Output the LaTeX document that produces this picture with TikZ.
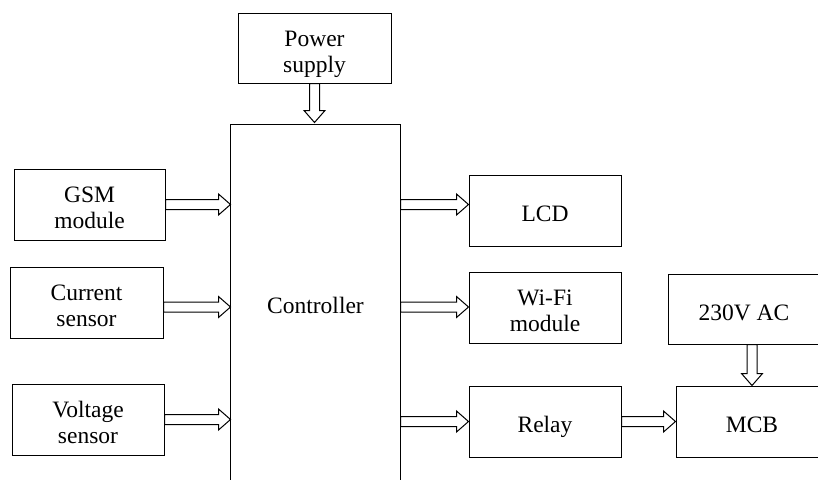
\documentclass[tikz,border=0pt]{standalone}
\usepackage{fontspec}
\setmainfont{Liberation Serif}
\usetikzlibrary{calc}
\newcommand\bt[2][-6pt]{\raisebox{#1}[\height][\depth]{\renewcommand\arraystretch{1}\begin{tabular}{@{}c@{}}#2\end{tabular}}}
\tikzset{
  box/.style={draw, line width=1pt, minimum width=#1, minimum height=71pt, inner sep=0pt, font=\fontsize{23.5}{26}\selectfont},
  box/.default=152pt,
  barrowline/.style={draw, line width=1pt, fill=white, line join=miter},
}
\newcommand\blockarrow[2]{%
  \coordinate (bA) at #1;
  \coordinate (bB) at #2;
  \coordinate (bC) at ($(bB)!12pt!(bA)$);
  \path[barrowline] ($(bA)!5pt!90:(bB)$) -- ($(bC)!5pt!90:(bB)$) -- ($(bC)!10.5pt!90:(bB)$) -- (bB)
    -- ($(bC)!10.5pt!-90:(bB)$) -- ($(bC)!5pt!-90:(bB)$) -- ($(bA)!5pt!-90:(bB)$) -- cycle;
}
\begin{document}
\begin{tikzpicture}[x=1pt,y=-1pt]
\clip (0,0) rectangle (818,479);
\fill[white] (0,0) rectangle (818,479);
% nodes
\node[box=153pt, minimum height=70pt] (pwr) at (314.5,48) {\bt{Power\\supply}};
\node[box=169pt, minimum height=364pt, draw=none] (ctrl) at (315.5,307) {\bt[-1.5pt]{Controller}};
\draw[line width=1pt] (ctrl.south west) -- (ctrl.north west) -- (ctrl.north east) -- (ctrl.south east);
\node[box=151pt] (gsm) at (89.5,204.5) {\bt{GSM\\module}};
\node[box=153pt] (cur) at (86.5,302.5) {\bt{Current\\sensor}};
\node[box] (vol) at (88,419.5) {\bt{Voltage\\sensor}};
\node[box] (lcd) at (545,210.5) {\bt{LCD}};
\node[box] (wifi) at (545,307.5) {\bt{Wi-Fi\\module}};
\node[box] (relay) at (545,421.5) {\bt{Relay}};
\node[box, minimum height=70pt] (ac) at (744,309) {\bt{230V AC}};
\node[box] (mcb) at (752,421.5) {\bt{MCB}};
% arrows
\blockarrow{(pwr.south)}{($(pwr.south |- ctrl.north)+(0,-2)$)}
\blockarrow{(gsm.east)}{(gsm.east -| ctrl.west)}
\blockarrow{(cur.east |- ctrl.center)}{(ctrl.west)}
\blockarrow{(vol.east)}{(vol.east -| ctrl.west)}
\blockarrow{(ctrl.east |- gsm.east)}{(lcd.west |- gsm.east)}
\blockarrow{(ctrl.east)}{(wifi.west |- ctrl.east)}
\blockarrow{(ctrl.east |- relay.west)}{(relay.west)}
\blockarrow{(relay.east)}{(relay.east -| mcb.west)}
\blockarrow{(mcb.north |- ac.south)}{(mcb.north)}
\end{tikzpicture}
\end{document}
